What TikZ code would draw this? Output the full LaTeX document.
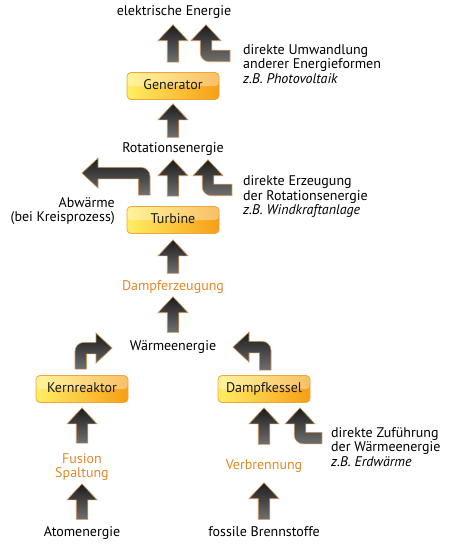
\documentclass[tikz,border=0pt]{standalone}
\usepackage{fontspec}
\setmainfont{PT Sans}
\usetikzlibrary{calc}

\definecolor{boxlight}{RGB}{255,238,100}
\definecolor{boxdark}{RGB}{246,158,22}
\definecolor{boxline}{RGB}{236,166,60}
\definecolor{procorange}{RGB}{226,136,40}
\definecolor{arrowtop}{RGB}{28,28,28}
\definecolor{arrowbot}{RGB}{112,112,112}
\definecolor{arrowline}{RGB}{205,150,90}

\begin{document}
\begin{tikzpicture}[x=1pt,y=-1pt,
		font=\fontsize{14}{14.5}\selectfont,
		txt/.style={inner sep=0pt,text height=9.5pt,text depth=3.5pt},
		proc/.style={txt,text=procorange},
		procml/.style={inner sep=0pt,align=center,text=procorange},
		note/.style={inner sep=0pt,align=left,anchor=west},
		box/.style={rounded corners=4pt,minimum width=92pt,minimum height=27pt,inner sep=0pt,
			text height=9.5pt,text depth=3.5pt,draw=boxline,line width=0.8pt,
			left color=boxlight,right color=boxdark,text=black!90,
			path picture={\fill[white,opacity=0.35] (path picture bounding box.north west) rectangle (path picture bounding box.east);}},
		arrowbody/.style={draw=arrowline,line width=0.6pt,top color=arrowtop,bottom color=arrowbot}]
		
		\useasboundingbox (0,0) rectangle (460,546);
		
		% arrow sizes
		\pgfmathsetmacro{\shaft}{5.75}% half shaft width
		\pgfmathsetmacro{\headw}{15}% half head width
		\pgfmathsetmacro{\headlen}{16}
		
		% straight block arrow, from bottom point to tip
		\newcommand{\blockup}[2]{%
			\shadedraw[arrowbody] let \p1=(#1), \p2=(#2) in
			(\x1-\shaft pt,\y1) -- (\x1-\shaft pt,\y2-\headlen pt) -- (\x1-\headw pt,\y2-\headlen pt) -- (\x1,\y2)
			-- (\x1+\headw pt,\y2-\headlen pt) -- (\x1+\shaft pt,\y2-\headlen pt) -- (\x1+\shaft pt,\y1) -- cycle;
		}
		% bent block arrow: tip, length to outer shaft edge, tail length
		\newcommand{\bentarrow}[4][]{%
			\begin{scope}[shift={(#2)},#1]
				\shadedraw[arrowbody] (0,0) -- (\headw,\headlen) -- (\shaft,\headlen) -- (\shaft,#3-2*\shaft) -- (#4,#3-2*\shaft)
				-- (#4,#3) -- (-\shaft+9,#3) arc (90:180:9) -- (-\shaft,\headlen) -- (-\headw,\headlen) -- cycle;
			\end{scope}
		}
		
		\node[txt] (elek) at (174,12) {elektrische Energie};
		\node[box] (gen) at (173,86) {Generator};
		\node[txt] (rot) at (173,149) {Rotationsenergie};
		\node[box] (tur) at (173,220) {Turbine};
		\node[proc] (dampf) at (173,287) {Dampferzeugung};
		\node[txt] (waerme) at (173,347) {Wärmeenergie};
		\node[box] (kern) at (82,389) {Kernreaktor};
		\node[box] (kessel) at (264,389) {Dampfkessel};
		\node[procml] (fusion) at (82,467) {Fusion\\Spaltung};
		\node[proc] (verbr) at (264,466) {Verbrennung};
		\node[txt] (atom) at (82,533) {Atomenergie};
		\node[txt] (fossil) at (264,533) {fossile Brennstoffe};
		
		\node[note] (umw) at (243,64) {direkte Umwandlung\\anderer Energieformen\\\textit{z.B. Photovoltaik}};
		\node[note] (erz) at (243,197) {direkte Erzeugung\\der Rotationsenergie\\\textit{z.B. Windkraftanlage}};
		\node[note] (zuf) at (331,447) {direkte Zuführung\\der Wärmeenergie\\\textit{z.B. Erdwärme}};
		\node[inner sep=0pt,align=right,anchor=east] (abw) at (115,211) {Abwärme\\(bei Kreisprozess)};
		
		% main chain
		\blockup{[yshift=10pt]gen.north}{[yshift=-6pt]elek.south}
		\blockup{[yshift=5pt]rot.north}{[yshift=-4pt]gen.south}
		\blockup{[yshift=10pt]tur.north}{[yshift=-4pt]rot.south}
		\blockup{[yshift=7pt]dampf.north}{[yshift=-6pt]tur.south}
		\blockup{[yshift=8pt]waerme.north}{[yshift=-3pt]dampf.south}
		\blockup{[yshift=10pt]fusion.north}{[yshift=-5pt]kern.south}
		\blockup{[yshift=7pt]atom.north}{[yshift=-3pt]fusion.south}
		\blockup{[yshift=15pt]verbr.north}{[yshift=-5pt]kessel.south}
		\blockup{[yshift=7pt]fossil.north}{[yshift=-10pt]verbr.south}
		
		% side arrows
		\bentarrow{[xshift=32pt,yshift=-6pt]elek.south}{37}{24}
		\bentarrow{[xshift=35pt,yshift=-4pt]rot.south}{36}{24}
		\bentarrow{[xshift=36pt,yshift=-5pt]kessel.south}{36}{22}
		\bentarrow[rotate=90,xscale=-1]{[xshift=-91pt,yshift=33pt]tur.north}{68}{22}
		\bentarrow[rotate=-90]{[xshift=30pt,yshift=27pt]kern.north}{37}{21}
		\bentarrow[rotate=90,xscale=-1]{[xshift=-31pt,yshift=28pt]kessel.north}{38}{23}
		
	\end{tikzpicture}
\end{document}
